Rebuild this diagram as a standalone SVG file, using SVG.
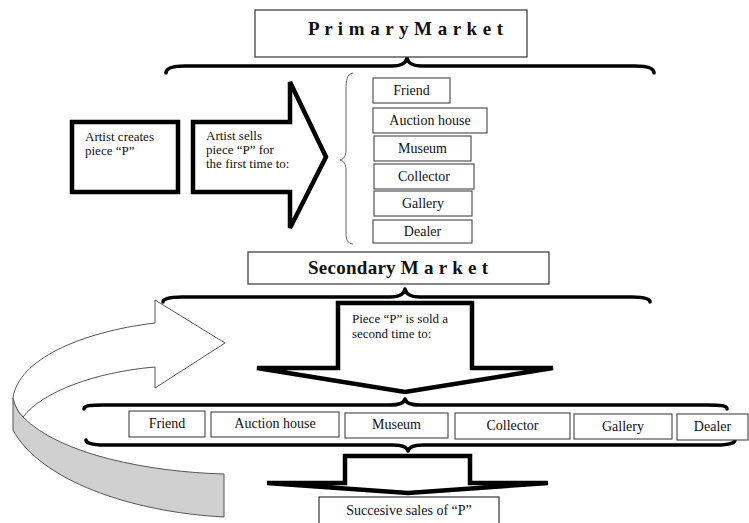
<svg xmlns="http://www.w3.org/2000/svg" width="749" height="523" viewBox="0 0 749 523">
<defs>
<style>
.t{font-family:"Liberation Serif","Times New Roman",serif;font-size:13px;fill:#111}
.l{font-family:"Liberation Serif","Times New Roman",serif;font-size:14px;fill:#111;text-anchor:middle}
.h{font-family:"Liberation Serif","Times New Roman",serif;font-size:19px;font-weight:bold;fill:#111}
.box{fill:#fff;stroke:#444;stroke-width:1.1}
.big{fill:#fff;stroke:#333;stroke-width:1.2}
.thick{fill:#fff;stroke:#000;stroke-width:4.5;stroke-linejoin:miter}
.brace{fill:none;stroke:#000;stroke-width:3.6;stroke-linecap:round;stroke-linejoin:round}
.vbrace{fill:none;stroke:#666;stroke-width:1}
</style>
</defs>
<rect width="749" height="523" fill="#fff"/>

<g id="connectors">
  <path class="brace" d="M166,73 C166,68 172,66 185,66 L392,66 C402,66 406,63 407,58 C408,63 412,66 422,66 L635,66 C648,66 654,68 654,73"/>
  <path class="vbrace" d="M353,73 C347,74 346,80 346,90 L346,150 C346,156 344,159 340,160 C344,161 346,164 346,170 L346,232 C346,240 347,243 353,244"/>
  <path class="brace" d="M163,302 C163,299 169,297 182,297 L390,297 C400,297 404,294 405,289 C406,294 410,297 420,297 L632,297 C645,297 650,299 650,302"/>
  <path class="brace" d="M84,409 C84,406 90,405 103,405 L390,405 C400,405 404,403 405,399 C406,403 410,405 420,405 L708,405 C721,405 727,406 727,409"/>
  <path class="brace" d="M86,440 C86,443 92,445 105,445 L393,445 C403,445 407,447 408,451 C409,447 413,445 423,445 L716,445 C729,445 735,443 735,440"/>
  <g id="cycle-arrow">
    <path d="M13,398 C15,406 18,412 23,417 C60,455 150,472 224,474 L224,517 C130,512 40,480 13,430 Z" fill="#d0d0d0" stroke="#555" stroke-width="1"/>
    <path d="M155,323 L155,300 L225,343 L155,388 L155,367 C95,372 42,392 23,417 C18,412 15,406 13,398 C18,360 80,332 155,323 Z" fill="#fff" stroke="#555" stroke-width="1"/>
  </g>
</g>

<g id="primary-market">
  <rect class="big" x="255" y="10" width="272" height="47"/>
  <text class="h" x="308" y="35" textLength="195" lengthAdjust="spacing">P r i m a r y M a r k e t</text>
</g>

<g id="artist-creates">
  <rect class="thick" x="72" y="122" width="106" height="70"/>
  <text class="t" x="85" y="141">Artist creates</text>
  <text class="t" x="85" y="155">piece “P”</text>
</g>

<g id="artist-sells">
  <polygon class="thick" points="193,122 290,122 290,82 326,157 290,228 290,192 193,192"/>
  <text class="t" x="206" y="140">Artist sells</text>
  <text class="t" x="206" y="154">piece “P” for</text>
  <text class="t" x="206" y="168">the first time to:</text>
</g>

<g id="first-buyers">
  <g id="p-friend"><rect class="box" x="373" y="78" width="77" height="25"/><text class="l" x="411.5" y="95">Friend</text></g>
  <g id="p-auction"><rect class="box" x="373" y="108" width="114" height="25"/><text class="l" x="430" y="125">Auction house</text></g>
  <g id="p-museum"><rect class="box" x="374" y="136" width="97" height="25"/><text class="l" x="422.5" y="153">Museum</text></g>
  <g id="p-collector"><rect class="box" x="374" y="164" width="100" height="25"/><text class="l" x="424" y="181">Collector</text></g>
  <g id="p-gallery"><rect class="box" x="374" y="191" width="98" height="25"/><text class="l" x="423" y="208">Gallery</text></g>
  <g id="p-dealer"><rect class="box" x="373" y="220" width="99" height="23"/><text class="l" x="422.5" y="236">Dealer</text></g>
</g>

<g id="secondary-market">
  <rect class="big" x="248" y="252" width="301" height="32"/>
  <text class="h" x="308" y="274" textLength="180" lengthAdjust="spacing">Secondary M a r k e t</text>
</g>

<g id="sold-second">
  <polygon class="thick" stroke-width="4" points="338,303 472,303 472,368 553,368 405,392 257,368 338,368"/>
  <text class="t" x="352" y="323">Piece “P” is sold a</text>
  <text class="t" x="352" y="338">second time to:</text>
</g>

<g id="second-buyers">
  <g id="s-friend"><rect class="box" x="129" y="411" width="76" height="26"/><text class="l" x="167" y="428">Friend</text></g>
  <g id="s-auction"><rect class="box" x="211" y="412" width="128" height="25"/><text class="l" x="275" y="428">Auction house</text></g>
  <g id="s-museum"><rect class="box" x="345" y="413" width="103" height="25"/><text class="l" x="396.5" y="429">Museum</text></g>
  <g id="s-collector"><rect class="box" x="455" y="413" width="115" height="26"/><text class="l" x="512.5" y="430">Collector</text></g>
  <g id="s-gallery"><rect class="box" x="574" y="414" width="98" height="25"/><text class="l" x="623" y="431">Gallery</text></g>
  <g id="s-dealer"><rect class="box" x="677" y="414" width="71" height="26"/><text class="l" x="712.5" y="431">Dealer</text></g>
</g>

<g id="successive-arrow">
  <polygon class="thick" stroke-width="4" points="345,456 470,456 470,483 548,483 408,493 267,483 345,483"/>
</g>

<g id="successive-sales">
  <rect class="big" x="319" y="497" width="180" height="40"/>
  <text class="l" x="409" y="515">Succesive sales of “P”</text>
</g>
</svg>
